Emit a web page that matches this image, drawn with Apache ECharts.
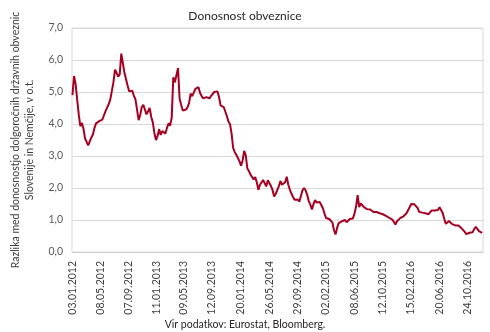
<!DOCTYPE html>
<html><head><meta charset="utf-8">
<script src="https://cdn.jsdelivr.net/npm/echarts@6/dist/echarts.min.js"></script>
<style>html,body{margin:0;padding:0;background:#fff}#c{width:490px;height:332px}</style>
</head><body><div id="c"></div>
<script>
// Weekly samples, starting 03.01.2012
const startDate = [2012, 1, 3];
const stepDays = 7;
const yields = [
4.9,5.5,5.25,4.76,4.3,3.93,4.03,3.85,3.55,3.5,
3.33,3.28,3.58,3.67,3.88,4.02,4.06,4.09,4.11,4.14,
4.19,4.4,4.38,4.62,4.76,4.75,5.3,5.7,5.6,5.48,
5.55,6.2,5.9,5.6,5.6,5.2,5.02,5.08,5.04,4.88,
4.77,4.45,4.12,4.28,4.53,4.6,4.45,4.3,4.4,4.5,
4.22,4.05,3.72,3.5,3.62,3.84,3.66,3.78,3.78,3.7,
3.88,4.02,3.95,4.2,5.46,5.3,5.3,5.75,4.8,4.6,
4.42,4.42,4.45,4.52,4.65,4.95,4.87,4.98,5.1,5.13,
5.15,4.97,4.87,4.8,4.76,4.84,4.85,4.8,4.88,4.9,
5.0,5.05,5.02,4.85,4.58,4.57,4.53,4.47,4.25,4.08,
4.0,3.7,3.25,3.12,3.04,3.0,2.84,2.7,2.86,3.16,
3.02,2.61,2.53,2.42,2.42,2.27,2.34,2.18,1.94,2.1,
2.05,2.25,2.24,2.05,2.24,2.25,2.06,1.94,1.73,1.82,
1.93,2.06,2.22,2.1,2.12,2.18,2.35,2.1,1.95,1.82,
1.72,1.63,1.62,1.64,1.57,1.62,1.93,2.0,1.93,1.78,
1.59,1.48,1.33,1.5,1.62,1.55,1.56,1.56,1.46,1.36,
1.2,1.06,1.07,1.03,1.02,0.92,0.68,0.55,0.76,0.9,
0.9,0.96,0.93,1.0,0.93,0.95,1.03,1.03,1.05,1.2,
1.42,1.78,1.4,1.52,1.55,1.4,1.39,1.34,1.3,1.33,
1.3,1.25,1.27,1.25,1.2,1.21,1.2,1.18,1.16,1.13,
1.12,1.07,1.02,1.01,0.94,0.86,0.96,1.01,1.06,1.07,
1.11,1.16,1.21,1.26,1.4,1.5,1.47,1.49,1.48,1.38,
1.26,1.2,1.23,1.25,1.21,1.19,1.18,1.22,1.3,1.28,
1.3,1.28,1.31,1.4,1.36,1.22,1.03,0.88,0.94,0.97,
0.92,0.87,0.81,0.83,0.81,0.83,0.79,0.74,0.72,0.63,
0.56,0.58,0.6,0.6,0.62,0.72,0.79,0.74,0.65,0.62,
0.6
];
const tickDates = ['03.01.2012','08.05.2012','07.09.2012','11.01.2013','09.05.2013',
  '12.09.2013','20.01.2014','26.05.2014','29.09.2014','02.02.2015','08.06.2015',
  '12.10.2015','15.02.2016','20.06.2016','24.10.2016'];
const axisRange = ['01.01.2012', '31.12.2016'];
const yMin = 0, yMax = 7, yStep = 1;
const titleText = 'Donosnost obveznice';
const yAxisTitle = 'Razlika med donosnostjo dolgoročnih državnih obveznic\nSlovenije in Nemčije, v o.t.';
const sourceText = 'Vir podatkov: Eurostat, Bloomberg.';

const DAY = 86400000;
function parseD(s){const p=s.split('.');return Date.UTC(+p[2],+p[1]-1,+p[0]);}
function fmtD(t){const d=new Date(t);const p=n=>(n<10?'0':'')+n;return p(d.getUTCDate())+'.'+p(d.getUTCMonth()+1)+'.'+d.getUTCFullYear();}
const t0 = Date.UTC(startDate[0], startDate[1]-1, startDate[2]);
const seriesData = yields.map((v,i)=>[t0 + i*stepDays*DAY, v]);
const font = 'Lato, "Open Sans", sans-serif';

const chart = echarts.init(document.getElementById('c'), null, {renderer:'canvas'});
chart.setOption({
  animation:false,
  backgroundColor:'#fff',
  title:[
    {text:titleText,left:'center',top:10,padding:0,textStyle:{fontFamily:font,fontSize:12,fontWeight:'normal',color:'#262626'}},
    {text:sourceText,left:'center',top:319,padding:0,textStyle:{fontFamily:font,fontSize:10.5,fontWeight:'normal',color:'#262626'}}
  ],
  grid:{left:72,right:7,top:28,bottom:80,show:true,borderColor:'#D9D9D9',borderWidth:1,containLabel:false},
  xAxis:{
    type:'value',
    min:parseD(axisRange[0]), max:parseD(axisRange[1]),
    axisLine:{show:true,lineStyle:{color:'#D0D0D0',width:1}},
    axisTick:{show:false},
    splitLine:{show:false},
    axisLabel:{customValues:tickDates.map(parseD),rotate:90,formatter:v=>fmtD(v),
      fontFamily:font,fontSize:10.5,color:'#404040',margin:9,hideOverlap:false,showMinLabel:true,showMaxLabel:true}
  },
  yAxis:{
    type:'value',min:yMin,max:yMax,interval:yStep,
    name:yAxisTitle,nameLocation:'middle',nameRotate:90,nameGap:35,
    nameTextStyle:{fontFamily:font,fontSize:10.5,color:'#404040',lineHeight:14,align:'center'},
    axisLine:{show:false},axisTick:{show:false},
    splitLine:{lineStyle:{color:'#D9D9D9',width:1}},
    axisLabel:{formatter:v=>v.toFixed(1).replace('.',','),fontFamily:font,fontSize:10.5,color:'#595959',margin:9}
  },
  series:[{type:'line',data:seriesData,showSymbol:false,symbol:'none',
    lineStyle:{color:'#A50021',width:2},itemStyle:{color:'#A50021'}}]
});
</script></body></html>
